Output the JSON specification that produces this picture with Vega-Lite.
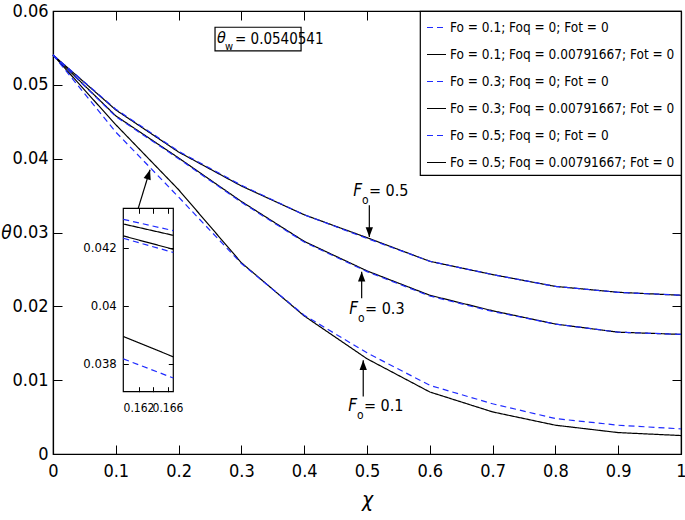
{
  "$schema": "https://vega.github.io/schema/vega-lite/v6.json",
  "width": 628,
  "height": 443,
  "autosize": "none",
  "padding": {"left": 53, "top": 11, "right": 4, "bottom": 66},
  "background": "white",
  "config": {
    "font": "DejaVu Sans Condensed, DejaVu Sans, sans-serif",
    "view": {"stroke": "black", "strokeWidth": 1.2},
    "axis": {"grid": false, "domainColor": "black", "tickColor": "black", "labelColor": "black", "titleColor": "black", "domainWidth": 1.2, "tickWidth": 1, "labelFlush": false, "labelOverlap": false, "labelFont": "DejaVu Sans Condensed, DejaVu Sans, sans-serif", "titleFont": "DejaVu Sans Condensed, DejaVu Sans, sans-serif"},
    "legend": {"labelFont": "DejaVu Sans Condensed, DejaVu Sans, sans-serif", "strokeWidth": 1.2},
    "text": {"font": "DejaVu Sans Condensed, DejaVu Sans, sans-serif", "color": "black"}
  },
  "datasets": {
    "main": [
      {"x": 0, "y": 0.05405, "s": "Fo = 0.5; Foq = 0.00791667; Fot = 0"},
      {"x": 0.1, "y": 0.0466, "s": "Fo = 0.5; Foq = 0.00791667; Fot = 0"},
      {"x": 0.2, "y": 0.0409, "s": "Fo = 0.5; Foq = 0.00791667; Fot = 0"},
      {"x": 0.3, "y": 0.0363, "s": "Fo = 0.5; Foq = 0.00791667; Fot = 0"},
      {"x": 0.4, "y": 0.0324, "s": "Fo = 0.5; Foq = 0.00791667; Fot = 0"},
      {"x": 0.5, "y": 0.0293, "s": "Fo = 0.5; Foq = 0.00791667; Fot = 0"},
      {"x": 0.6, "y": 0.0261, "s": "Fo = 0.5; Foq = 0.00791667; Fot = 0"},
      {"x": 0.7, "y": 0.0243, "s": "Fo = 0.5; Foq = 0.00791667; Fot = 0"},
      {"x": 0.8, "y": 0.0227, "s": "Fo = 0.5; Foq = 0.00791667; Fot = 0"},
      {"x": 0.9, "y": 0.0219, "s": "Fo = 0.5; Foq = 0.00791667; Fot = 0"},
      {"x": 1.0, "y": 0.0215, "s": "Fo = 0.5; Foq = 0.00791667; Fot = 0"},
      {"x": 0, "y": 0.05405, "s": "Fo = 0.3; Foq = 0.00791667; Fot = 0"},
      {"x": 0.1, "y": 0.0458, "s": "Fo = 0.3; Foq = 0.00791667; Fot = 0"},
      {"x": 0.2, "y": 0.0401, "s": "Fo = 0.3; Foq = 0.00791667; Fot = 0"},
      {"x": 0.3, "y": 0.0342, "s": "Fo = 0.3; Foq = 0.00791667; Fot = 0"},
      {"x": 0.4, "y": 0.0288, "s": "Fo = 0.3; Foq = 0.00791667; Fot = 0"},
      {"x": 0.5, "y": 0.0248, "s": "Fo = 0.3; Foq = 0.00791667; Fot = 0"},
      {"x": 0.6, "y": 0.0215, "s": "Fo = 0.3; Foq = 0.00791667; Fot = 0"},
      {"x": 0.7, "y": 0.0194, "s": "Fo = 0.3; Foq = 0.00791667; Fot = 0"},
      {"x": 0.8, "y": 0.0176, "s": "Fo = 0.3; Foq = 0.00791667; Fot = 0"},
      {"x": 0.9, "y": 0.0165, "s": "Fo = 0.3; Foq = 0.00791667; Fot = 0"},
      {"x": 1.0, "y": 0.0162, "s": "Fo = 0.3; Foq = 0.00791667; Fot = 0"},
      {"x": 0, "y": 0.05405, "s": "Fo = 0.1; Foq = 0.00791667; Fot = 0"},
      {"x": 0.1, "y": 0.0446, "s": "Fo = 0.1; Foq = 0.00791667; Fot = 0"},
      {"x": 0.2, "y": 0.0358, "s": "Fo = 0.1; Foq = 0.00791667; Fot = 0"},
      {"x": 0.3, "y": 0.0259, "s": "Fo = 0.1; Foq = 0.00791667; Fot = 0"},
      {"x": 0.4, "y": 0.0187, "s": "Fo = 0.1; Foq = 0.00791667; Fot = 0"},
      {"x": 0.5, "y": 0.0129, "s": "Fo = 0.1; Foq = 0.00791667; Fot = 0"},
      {"x": 0.6, "y": 0.0084, "s": "Fo = 0.1; Foq = 0.00791667; Fot = 0"},
      {"x": 0.7, "y": 0.0057, "s": "Fo = 0.1; Foq = 0.00791667; Fot = 0"},
      {"x": 0.8, "y": 0.0039, "s": "Fo = 0.1; Foq = 0.00791667; Fot = 0"},
      {"x": 0.9, "y": 0.0029, "s": "Fo = 0.1; Foq = 0.00791667; Fot = 0"},
      {"x": 1.0, "y": 0.0025, "s": "Fo = 0.1; Foq = 0.00791667; Fot = 0"},
      {"x": 0, "y": 0.05405, "s": "Fo = 0.5; Foq = 0; Fot = 0"},
      {"x": 0.1, "y": 0.0467, "s": "Fo = 0.5; Foq = 0; Fot = 0"},
      {"x": 0.2, "y": 0.0410, "s": "Fo = 0.5; Foq = 0; Fot = 0"},
      {"x": 0.3, "y": 0.0364, "s": "Fo = 0.5; Foq = 0; Fot = 0"},
      {"x": 0.4, "y": 0.0324, "s": "Fo = 0.5; Foq = 0; Fot = 0"},
      {"x": 0.5, "y": 0.0292, "s": "Fo = 0.5; Foq = 0; Fot = 0"},
      {"x": 0.6, "y": 0.0261, "s": "Fo = 0.5; Foq = 0; Fot = 0"},
      {"x": 0.7, "y": 0.0243, "s": "Fo = 0.5; Foq = 0; Fot = 0"},
      {"x": 0.8, "y": 0.0227, "s": "Fo = 0.5; Foq = 0; Fot = 0"},
      {"x": 0.9, "y": 0.0219, "s": "Fo = 0.5; Foq = 0; Fot = 0"},
      {"x": 1.0, "y": 0.0215, "s": "Fo = 0.5; Foq = 0; Fot = 0"},
      {"x": 0, "y": 0.05405, "s": "Fo = 0.3; Foq = 0; Fot = 0"},
      {"x": 0.1, "y": 0.0457, "s": "Fo = 0.3; Foq = 0; Fot = 0"},
      {"x": 0.2, "y": 0.0400, "s": "Fo = 0.3; Foq = 0; Fot = 0"},
      {"x": 0.3, "y": 0.0341, "s": "Fo = 0.3; Foq = 0; Fot = 0"},
      {"x": 0.4, "y": 0.0287, "s": "Fo = 0.3; Foq = 0; Fot = 0"},
      {"x": 0.5, "y": 0.0247, "s": "Fo = 0.3; Foq = 0; Fot = 0"},
      {"x": 0.6, "y": 0.0214, "s": "Fo = 0.3; Foq = 0; Fot = 0"},
      {"x": 0.7, "y": 0.0193, "s": "Fo = 0.3; Foq = 0; Fot = 0"},
      {"x": 0.8, "y": 0.0176, "s": "Fo = 0.3; Foq = 0; Fot = 0"},
      {"x": 0.9, "y": 0.0165, "s": "Fo = 0.3; Foq = 0; Fot = 0"},
      {"x": 1.0, "y": 0.0162, "s": "Fo = 0.3; Foq = 0; Fot = 0"},
      {"x": 0, "y": 0.05405, "s": "Fo = 0.1; Foq = 0; Fot = 0"},
      {"x": 0.1, "y": 0.0436, "s": "Fo = 0.1; Foq = 0; Fot = 0"},
      {"x": 0.2, "y": 0.0348, "s": "Fo = 0.1; Foq = 0; Fot = 0"},
      {"x": 0.3, "y": 0.0258, "s": "Fo = 0.1; Foq = 0; Fot = 0"},
      {"x": 0.4, "y": 0.0188, "s": "Fo = 0.1; Foq = 0; Fot = 0"},
      {"x": 0.5, "y": 0.0137, "s": "Fo = 0.1; Foq = 0; Fot = 0"},
      {"x": 0.6, "y": 0.0093, "s": "Fo = 0.1; Foq = 0; Fot = 0"},
      {"x": 0.7, "y": 0.0068, "s": "Fo = 0.1; Foq = 0; Fot = 0"},
      {"x": 0.8, "y": 0.0048, "s": "Fo = 0.1; Foq = 0; Fot = 0"},
      {"x": 0.9, "y": 0.0039, "s": "Fo = 0.1; Foq = 0; Fot = 0"},
      {"x": 1.0, "y": 0.0034, "s": "Fo = 0.1; Foq = 0; Fot = 0"}
    ],
    "inset": [
      {"x": 0.1599, "y": 0.04281, "s": "Fo = 0.5; Foq = 0.00791667; Fot = 0"},
      {"x": 0.1668, "y": 0.04242, "s": "Fo = 0.5; Foq = 0.00791667; Fot = 0"},
      {"x": 0.1599, "y": 0.04240, "s": "Fo = 0.3; Foq = 0.00791667; Fot = 0"},
      {"x": 0.1668, "y": 0.04194, "s": "Fo = 0.3; Foq = 0.00791667; Fot = 0"},
      {"x": 0.1599, "y": 0.03894, "s": "Fo = 0.1; Foq = 0.00791667; Fot = 0"},
      {"x": 0.1668, "y": 0.03824, "s": "Fo = 0.1; Foq = 0.00791667; Fot = 0"},
      {"x": 0.1599, "y": 0.04297, "s": "Fo = 0.5; Foq = 0; Fot = 0"},
      {"x": 0.1668, "y": 0.04258, "s": "Fo = 0.5; Foq = 0; Fot = 0"},
      {"x": 0.1599, "y": 0.04232, "s": "Fo = 0.3; Foq = 0; Fot = 0"},
      {"x": 0.1668, "y": 0.04183, "s": "Fo = 0.3; Foq = 0; Fot = 0"},
      {"x": 0.1599, "y": 0.03817, "s": "Fo = 0.1; Foq = 0; Fot = 0"},
      {"x": 0.1668, "y": 0.03751, "s": "Fo = 0.1; Foq = 0; Fot = 0"}
    ],
    "insetFrame": [{"x": 0.1599, "x2": 0.1668, "y": 0.03704, "y2": 0.04335}],
    "arrows": [
      {"x": 0.5037, "y": 0.0337, "x2": 0.5037, "y2": 0.0294, "d": "down"},
      {"x": 0.4915, "y": 0.0211, "x2": 0.4915, "y2": 0.0247, "d": "up"},
      {"x": 0.494, "y": 0.0078, "x2": 0.494, "y2": 0.0127, "d": "up"},
      {"x": 0.1358, "y": 0.0333, "x2": 0.1545, "y2": 0.0385, "d": "ne"}
    ],
    "labels": [
      {"x": 0.492, "y": 0.0356, "t": "= 0.5"},
      {"x": 0.4857, "y": 0.0196, "t": "= 0.3"},
      {"x": 0.484, "y": 0.0065, "t": "= 0.1"}
    ],
    "box": [{"x": 0.258, "x2": 0.395, "y": 0.0546, "y2": 0.0578}],
    "note": [{"x": 0.2611, "y": 0.0563, "t": "= 0.0540541"}]
  },
  "layer": [
    {
      "data": {"name": "main"},
      "mark": {"type": "line", "strokeWidth": 1.2},
      "encoding": {
        "x": {"field": "x", "type": "quantitative", "scale": {"domain": [0, 1], "nice": false, "zero": false},
          "axis": {"orient": "bottom", "values": [0, 0.1, 0.2, 0.3, 0.4, 0.5, 0.6, 0.7, 0.8, 0.9, 1], "format": "~f", "tickSize": -9, "labelPadding": 17, "labelFontSize": 18, "title": "χ", "titleFontSize": 21, "titleFontStyle": "italic", "titleFontWeight": "normal", "titleY": 46, "titleBaseline": "middle"}},
        "y": {"field": "y", "type": "quantitative", "scale": {"domain": [0, 0.06], "nice": false, "zero": false},
          "axis": {"orient": "left", "values": [0, 0.01, 0.02, 0.03, 0.04, 0.05, 0.06], "format": "~f", "tickSize": -9, "labelPadding": 14, "labelFontSize": 18, "title": "θ", "titleFontSize": 19, "titleFontStyle": "italic", "titleFontWeight": "normal", "titleAngle": 0, "titleX": -47, "titleY": 221.5, "titleAlign": "center", "titleBaseline": "middle"}},
        "color": {"field": "s", "type": "nominal",
          "scale": {"domain": ["Fo = 0.1; Foq = 0; Fot = 0", "Fo = 0.1; Foq = 0.00791667; Fot = 0", "Fo = 0.3; Foq = 0; Fot = 0", "Fo = 0.3; Foq = 0.00791667; Fot = 0", "Fo = 0.5; Foq = 0; Fot = 0", "Fo = 0.5; Foq = 0.00791667; Fot = 0"], "range": ["#1f2bff", "black", "#1f2bff", "black", "#1f2bff", "black"]},
          "legend": {"title": null, "orient": "top-right", "offset": 0, "strokeColor": "black", "fillColor": "white", "padding": 6, "symbolType": "stroke", "symbolSize": 361, "symbolStrokeWidth": 1.2, "labelFontSize": 13.5, "labelLimit": 400, "rowPadding": 10, "labelOffset": 3}},
        "strokeDash": {"field": "s", "type": "nominal",
          "scale": {"domain": ["Fo = 0.1; Foq = 0; Fot = 0", "Fo = 0.1; Foq = 0.00791667; Fot = 0", "Fo = 0.3; Foq = 0; Fot = 0", "Fo = 0.3; Foq = 0.00791667; Fot = 0", "Fo = 0.5; Foq = 0; Fot = 0", "Fo = 0.5; Foq = 0.00791667; Fot = 0"], "range": [[6, 4], [1, 0], [6, 4], [1, 0], [6, 4], [1, 0]]},
          "legend": {"title": null, "orient": "top-right", "offset": 0, "strokeColor": "black", "fillColor": "white", "padding": 6, "symbolType": "stroke", "symbolSize": 361, "symbolStrokeWidth": 1.2, "labelFontSize": 13.5, "labelLimit": 400, "rowPadding": 10, "labelOffset": 3}}
      }
    },
    {
      "data": {"name": "arrows"},
      "mark": {"type": "rule", "strokeWidth": 1.2, "color": "black"},
      "encoding": {
        "x": {"field": "x", "type": "quantitative", "scale": {"domain": [0, 1], "nice": false, "zero": false},
          "axis": {"orient": "top", "values": [0, 0.1, 0.2, 0.3, 0.4, 0.5, 0.6, 0.7, 0.8, 0.9, 1], "labels": false, "tickSize": -9, "title": null}},
        "y": {"field": "y", "type": "quantitative", "scale": {"domain": [0, 0.06], "nice": false, "zero": false},
          "axis": {"orient": "right", "values": [0, 0.01, 0.02, 0.03, 0.04, 0.05, 0.06], "labels": false, "tickSize": -9, "title": null}},
        "x2": {"field": "x2"},
        "y2": {"field": "y2"}
      }
    },
    {
      "data": {"name": "arrows"},
      "mark": {"type": "point", "filled": true, "color": "black", "opacity": 1, "size": 150},
      "encoding": {
        "x": {"field": "x2", "type": "quantitative", "scale": {"domain": [0, 1], "nice": false, "zero": false}, "axis": null},
        "y": {"field": "y2", "type": "quantitative", "scale": {"domain": [0, 0.06], "nice": false, "zero": false}, "axis": null},
        "shape": {"field": "d", "type": "nominal", "scale": {"domain": ["up", "down", "ne"], "range": ["M0,0L0.6,1.6L-0.6,1.6Z", "M0,0L0.6,-1.6L-0.6,-1.6Z", "M0,0L0.107,1.705L-1.041,1.355Z"]}, "legend": null}
      }
    },
    {
      "data": {"name": "labels"},
      "mark": {"type": "text", "text": "F", "align": "right", "baseline": "middle", "fontSize": 17, "fontStyle": "italic"},
      "encoding": {
        "x": {"field": "x", "type": "quantitative", "scale": {"domain": [0, 1], "nice": false, "zero": false}, "axis": null},
        "y": {"field": "y", "type": "quantitative", "scale": {"domain": [0, 0.06], "nice": false, "zero": false}, "axis": null}
      }
    },
    {
      "data": {"name": "labels"},
      "mark": {"type": "text", "text": "o", "align": "left", "baseline": "middle", "fontSize": 12, "dx": 0, "dy": 9},
      "encoding": {
        "x": {"field": "x", "type": "quantitative", "scale": {"domain": [0, 1], "nice": false, "zero": false}, "axis": null},
        "y": {"field": "y", "type": "quantitative", "scale": {"domain": [0, 0.06], "nice": false, "zero": false}, "axis": null}
      }
    },
    {
      "data": {"name": "labels"},
      "mark": {"type": "text", "align": "left", "baseline": "middle", "fontSize": 16, "dx": 7},
      "encoding": {
        "x": {"field": "x", "type": "quantitative", "scale": {"domain": [0, 1], "nice": false, "zero": false}, "axis": null},
        "y": {"field": "y", "type": "quantitative", "scale": {"domain": [0, 0.06], "nice": false, "zero": false}, "axis": null},
        "text": {"field": "t"}
      }
    },
    {
      "data": {"name": "box"},
      "mark": {"type": "rect", "filled": false, "stroke": "black", "strokeWidth": 1.2},
      "encoding": {
        "x": {"field": "x", "type": "quantitative", "scale": {"domain": [0, 1], "nice": false, "zero": false}, "axis": null},
        "x2": {"field": "x2"},
        "y": {"field": "y", "type": "quantitative", "scale": {"domain": [0, 0.06], "nice": false, "zero": false}, "axis": null},
        "y2": {"field": "y2"}
      }
    },
    {
      "data": {"name": "note"},
      "mark": {"type": "text", "text": "θ", "align": "left", "baseline": "middle", "fontSize": 16, "fontStyle": "italic"},
      "encoding": {
        "x": {"field": "x", "type": "quantitative", "scale": {"domain": [0, 1], "nice": false, "zero": false}, "axis": null},
        "y": {"field": "y", "type": "quantitative", "scale": {"domain": [0, 0.06], "nice": false, "zero": false}, "axis": null}
      }
    },
    {
      "data": {"name": "note"},
      "mark": {"type": "text", "text": "w", "align": "left", "baseline": "middle", "fontSize": 11, "dx": 8, "dy": 9},
      "encoding": {
        "x": {"field": "x", "type": "quantitative", "scale": {"domain": [0, 1], "nice": false, "zero": false}, "axis": null},
        "y": {"field": "y", "type": "quantitative", "scale": {"domain": [0, 0.06], "nice": false, "zero": false}, "axis": null}
      }
    },
    {
      "data": {"name": "note"},
      "mark": {"type": "text", "align": "left", "baseline": "middle", "fontSize": 15, "dx": 18, "dy": 1},
      "encoding": {
        "x": {"field": "x", "type": "quantitative", "scale": {"domain": [0, 1], "nice": false, "zero": false}, "axis": null},
        "y": {"field": "y", "type": "quantitative", "scale": {"domain": [0, 0.06], "nice": false, "zero": false}, "axis": null},
        "text": {"field": "t"}
      }
    },
    {
      "data": {"name": "insetFrame"},
      "mark": {"type": "rect", "filled": false, "stroke": "black", "strokeWidth": 1.2},
      "encoding": {
        "x": {"field": "x", "type": "quantitative", "scale": {"domain": [0.1599, 0.1668], "range": [70.3, 120.3], "nice": false, "zero": false},
          "axis": {"orient": "top", "offset": -197.3, "values": [0.162, 0.164, 0.166], "labels": false, "domain": false, "tickSize": -5, "title": null, "zindex": 1}},
        "x2": {"field": "x2"},
        "y": {"field": "y", "type": "quantitative", "scale": {"domain": [0.03704, 0.04335], "range": [380.7, 197.3], "nice": false, "zero": false},
          "axis": {"orient": "right", "offset": -507.7, "values": [0.038, 0.04, 0.042], "labels": false, "domain": false, "tickSize": -5, "title": null, "zindex": 1}},
        "y2": {"field": "y2"}
      }
    },
    {
      "data": {"name": "inset"},
      "mark": {"type": "line", "strokeWidth": 1.2},
      "encoding": {
        "x": {"field": "x", "type": "quantitative", "scale": {"domain": [0.1599, 0.1668], "range": [70.3, 120.3], "nice": false, "zero": false},
          "axis": {"orient": "bottom", "offset": -62.3, "values": [0.162, 0.164, 0.166], "format": "~f", "labelExpr": "abs(datum.value - 0.164) < 0.0005 ? '' : datum.label", "labelFontSize": 12, "labelPadding": 16, "domain": false, "tickSize": -5, "title": null, "zindex": 1}},
        "y": {"field": "y", "type": "quantitative", "scale": {"domain": [0.03704, 0.04335], "range": [380.7, 197.3], "nice": false, "zero": false},
          "axis": {"orient": "left", "offset": -70.3, "values": [0.038, 0.04, 0.042], "format": "~f", "labelFontSize": 13, "labelPadding": 12, "domain": false, "tickSize": -5, "title": null, "zindex": 1}},
        "color": {"field": "s", "type": "nominal",
          "scale": {"domain": ["Fo = 0.1; Foq = 0; Fot = 0", "Fo = 0.1; Foq = 0.00791667; Fot = 0", "Fo = 0.3; Foq = 0; Fot = 0", "Fo = 0.3; Foq = 0.00791667; Fot = 0", "Fo = 0.5; Foq = 0; Fot = 0", "Fo = 0.5; Foq = 0.00791667; Fot = 0"], "range": ["#1f2bff", "black", "#1f2bff", "black", "#1f2bff", "black"]},
          "legend": {"title": null, "orient": "top-right", "offset": 0, "strokeColor": "black", "fillColor": "white", "padding": 6, "symbolType": "stroke", "symbolSize": 361, "symbolStrokeWidth": 1.2, "labelFontSize": 13.5, "labelLimit": 400, "rowPadding": 10, "labelOffset": 3}},
        "strokeDash": {"field": "s", "type": "nominal",
          "scale": {"domain": ["Fo = 0.1; Foq = 0; Fot = 0", "Fo = 0.1; Foq = 0.00791667; Fot = 0", "Fo = 0.3; Foq = 0; Fot = 0", "Fo = 0.3; Foq = 0.00791667; Fot = 0", "Fo = 0.5; Foq = 0; Fot = 0", "Fo = 0.5; Foq = 0.00791667; Fot = 0"], "range": [[6, 4], [1, 0], [6, 4], [1, 0], [6, 4], [1, 0]]},
          "legend": {"title": null, "orient": "top-right", "offset": 0, "strokeColor": "black", "fillColor": "white", "padding": 6, "symbolType": "stroke", "symbolSize": 361, "symbolStrokeWidth": 1.2, "labelFontSize": 13.5, "labelLimit": 400, "rowPadding": 10, "labelOffset": 3}}
      }
    }
  ],
  "resolve": {"scale": {"x": "independent", "y": "independent"}, "axis": {"x": "independent", "y": "independent"}}
}
